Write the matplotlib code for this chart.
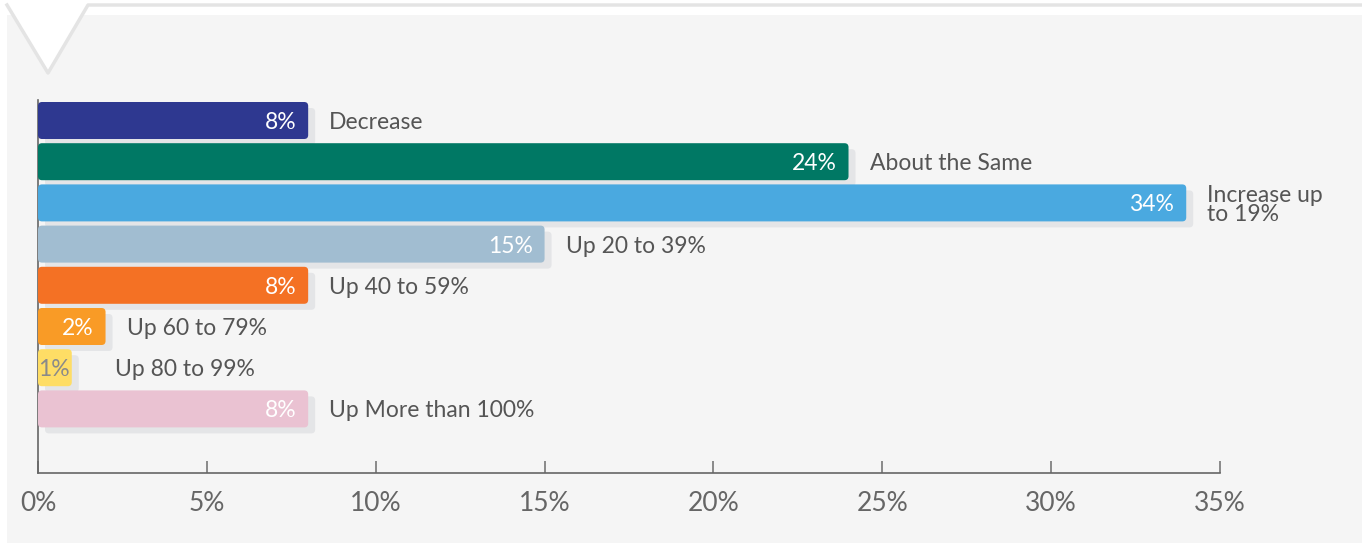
import matplotlib.pyplot as plt
from matplotlib.patches import FancyBboxPatch, Rectangle, Polygon
from matplotlib.lines import Line2D

plt.rcParams['font.family'] = ['Lato', 'DejaVu Sans']

categories = ["Decrease", "About the Same", "Increase up\nto 19%", "Up 20 to 39%",
              "Up 40 to 59%", "Up 60 to 79%", "Up 80 to 99%", "Up More than 100%"]
values = [8, 24, 34, 15, 8, 2, 1, 8]
colors = ["#2e3890", "#007864", "#4aa9e0", "#a1bdd1",
          "#f47124", "#f99b26", "#fedd65", "#eac2d2"]
value_colors = ["white"] * 6 + ["#8a8a8a", "white"]
ticks = [0, 5, 10, 15, 20, 25, 30, 35]

W, H = 1362, 543
fig = plt.figure(figsize=(W / 100, H / 100), dpi=100)
fig.patch.set_facecolor("white")

# grey panel plus the white notch at the top left
fig.patches.append(Rectangle((7 / W, 0), 1, 1 - 15 / H, transform=fig.transFigure,
                             facecolor="#f5f5f5", edgecolor="none", zorder=0))
notch = [(7 / W, 1 - 5 / H), (48 / W, 1 - 73 / H), (88 / W, 1 - 5 / H)]
fig.patches.append(Polygon(notch, closed=True, transform=fig.transFigure,
                           facecolor="white", edgecolor="none", zorder=1))
fig.lines.append(Line2D([7 / W, 48 / W, 88 / W, 1], [1 - 5 / H, 1 - 73 / H, 1 - 5 / H, 1 - 5 / H],
                        transform=fig.transFigure, color="#e4e4e4", lw=2.5, zorder=2))

ax_left, ax_right, ax_top, ax_bottom = 38, 1220, 100, 473
ax = fig.add_axes([ax_left / W, 1 - ax_bottom / H, (ax_right - ax_left) / W, (ax_bottom - ax_top) / H])
ax.set_zorder(5)
ax.set_facecolor("none")

pitch = 41.2
y0 = 120.5
ax.set_xlim(0, 35)
ax.set_ylim((ax_bottom - y0) / pitch, (ax_top - y0) / pitch)

px_x = 35 / (ax_right - ax_left)   # data units per pixel, x
px_y = 1 / pitch                   # data units per pixel, y
bar_h = 37 * px_y
rad = 4 * px_x
aspect = px_y / px_x

for i, (v, c) in enumerate(zip(values, colors)):
    # drop shadow
    sh = FancyBboxPatch((7 * px_x, i - bar_h / 2 + 6 * px_y), v, bar_h,
                        boxstyle=f"round,pad=0,rounding_size={rad}", mutation_aspect=aspect,
                        facecolor="#e4e5e7", edgecolor="none", zorder=2)
    ax.add_patch(sh)
    bar = FancyBboxPatch((0, i - bar_h / 2), v, bar_h,
                         boxstyle=f"round,pad=0,rounding_size={rad}", mutation_aspect=aspect,
                         facecolor=c, edgecolor="none", zorder=3)
    ax.add_patch(bar)
    dx = -12 if v >= 2 else -2
    ax.annotate(f"{v}%", (v, i), xytext=(dx, -2), textcoords="offset pixels",
                ha="right", va="center", color=value_colors[i], fontsize=16.5, zorder=4)
    gap = 43 if i == 6 else 21
    ax.annotate(categories[i], (v, i), xytext=(gap, -2), textcoords="offset pixels",
                ha="left", va="center", color="#555555", fontsize=16.5, linespacing=0.85, zorder=4)

for s in ["top", "right"]:
    ax.spines[s].set_visible(False)
for s in ["left", "bottom"]:
    ax.spines[s].set_color("#666666")
    ax.spines[s].set_linewidth(1.2)

ax.set_yticks([])
ax.set_xticks(ticks)
ax.set_xticklabels([f"{t}%" for t in ticks])
ax.tick_params(axis="x", direction="in", length=9, width=1.2, color="#777777",
               labelcolor="#666666", labelsize=19, pad=13)

fig.savefig("out.png", dpi=100)
